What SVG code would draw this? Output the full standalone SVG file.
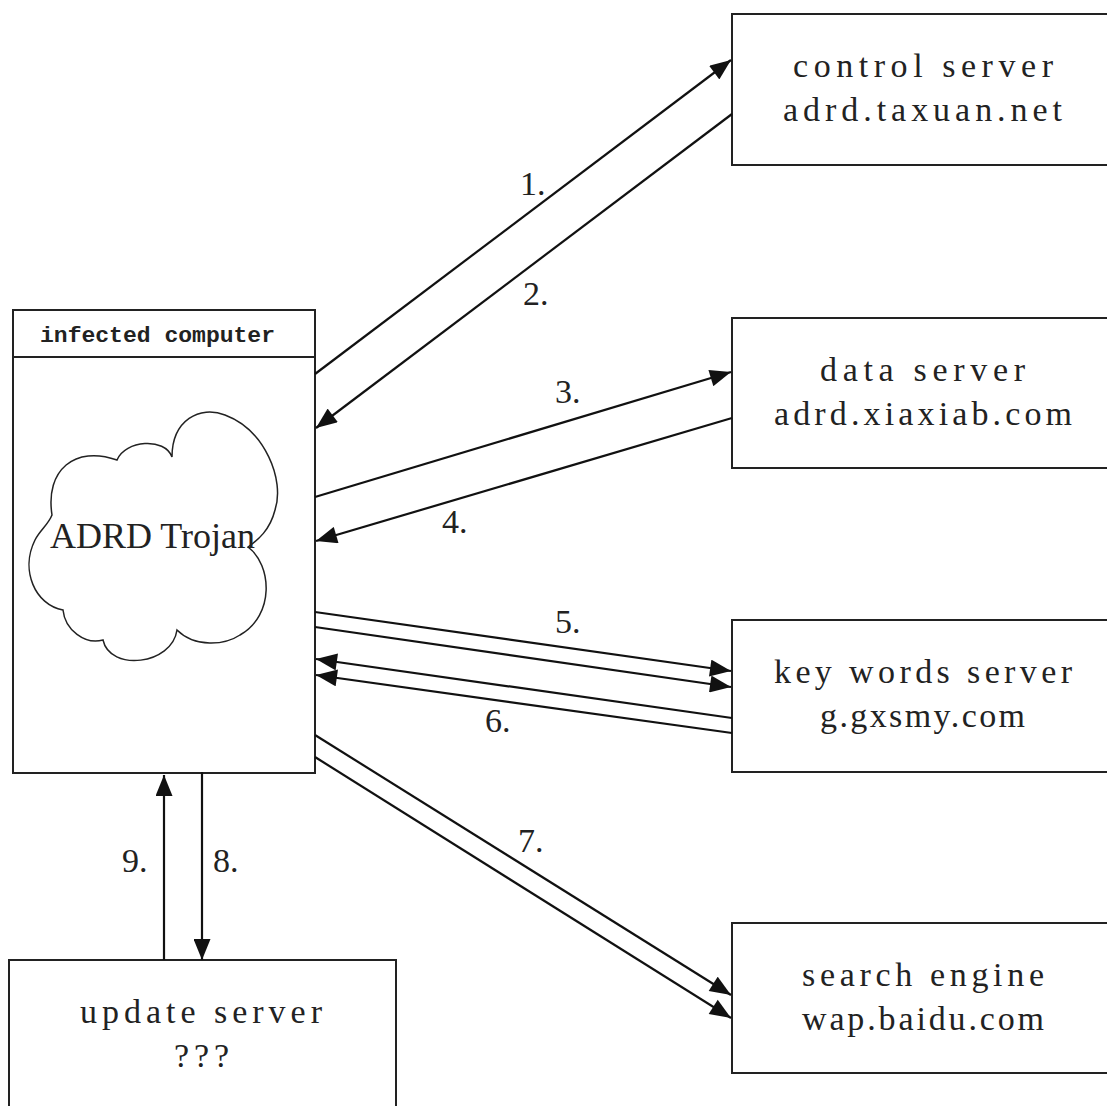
<svg xmlns="http://www.w3.org/2000/svg" width="1107" height="1106" viewBox="0 0 1107 1106">
<style>
.box{fill:#fff;stroke:#222;stroke-width:2}
.t{font-family:"Liberation Serif","Times New Roman",serif;font-size:34px;fill:#222}
.hdr{font-family:"Liberation Mono","Courier New",monospace;font-size:22px;font-weight:bold;fill:#222}
.c{stroke:#111;stroke-width:2.2;fill:none;marker-end:url(#ah)}
</style>
<defs>
<marker id="ah" markerUnits="userSpaceOnUse" markerWidth="22" markerHeight="17" viewBox="0 0 21 17" refX="21" refY="8.5" orient="auto">
<path d="M0,0 L21,8.5 L0,17 Z" fill="#111"/>
</marker>
</defs>
<rect width="1107" height="1106" fill="#fff"/>
<g id="infected">
<rect class="box" x="13" y="310" width="302" height="463"/>
<line x1="13" y1="357" x2="315" y2="357" stroke="#222" stroke-width="2"/>
<text class="hdr" x="40" y="342" textLength="235" lengthAdjust="spacingAndGlyphs">infected computer</text>
<path d="M52,515 C45,470 75,445 117,460 C125,440 165,437 172,457 C172,420 200,405 225,415 C265,430 285,480 275,510 C270,530 258,540 248,547 C272,565 275,615 240,635 C225,645 195,648 177,630 C172,665 110,672 103,640 C85,645 65,630 63,610 C35,605 20,570 35,540 C40,530 48,525 52,515 Z" fill="#fff" stroke="#222" stroke-width="1.5"/>
<text class="t" x="50" y="548" textLength="205" style="font-size:36px">ADRD Trojan</text>
</g>
<g id="control">
<rect class="box" x="732" y="14" width="400" height="151"/>
<text class="t" x="793" y="77" textLength="260">control server</text>
<text class="t" x="783" y="121" textLength="279">adrd.taxuan.net</text>
</g>
<g id="data">
<rect class="box" x="732" y="318" width="400" height="150"/>
<text class="t" x="820" y="381" textLength="205">data server</text>
<text class="t" x="774" y="425" textLength="298">adrd.xiaxiab.com</text>
</g>
<g id="keywords">
<rect class="box" x="732" y="620" width="400" height="152"/>
<text class="t" x="774" y="683" textLength="298">key words server</text>
<text class="t" x="820" y="727" textLength="205">g.gxsmy.com</text>
</g>
<g id="search">
<rect class="box" x="732" y="923" width="400" height="150"/>
<text class="t" x="802" y="986" textLength="242">search engine</text>
<text class="t" x="802" y="1030" textLength="242">wap.baidu.com</text>
</g>
<g id="update">
<rect class="box" x="9" y="960" width="387" height="170"/>
<text class="t" x="80" y="1023" textLength="242">update server</text>
<text class="t" x="174" y="1067" textLength="55">???</text>
</g>
<g id="connectors">
<line class="c" x1="315" y1="374" x2="731" y2="60"/>
<line class="c" x1="732" y1="114" x2="316" y2="428"/>
<line class="c" x1="315" y1="497" x2="731" y2="372"/>
<line class="c" x1="732" y1="418" x2="316" y2="541"/>
<line class="c" x1="315" y1="612" x2="731" y2="671"/>
<line class="c" x1="315" y1="627" x2="731" y2="687"/>
<line class="c" x1="732" y1="718" x2="316" y2="659"/>
<line class="c" x1="732" y1="733" x2="316" y2="675"/>
<line class="c" x1="315" y1="735" x2="731" y2="995"/>
<line class="c" x1="315" y1="757" x2="731" y2="1018"/>
<line class="c" x1="202" y1="772" x2="202" y2="960"/>
<line class="c" x1="164" y1="960" x2="164" y2="775"/>
<text class="t" x="520" y="195">1.</text>
<text class="t" x="523" y="305">2.</text>
<text class="t" x="555" y="403">3.</text>
<text class="t" x="442" y="533">4.</text>
<text class="t" x="555" y="633">5.</text>
<text class="t" x="485" y="732">6.</text>
<text class="t" x="518" y="852">7.</text>
<text class="t" x="213" y="872">8.</text>
<text class="t" x="122" y="872">9.</text>
</g>
</svg>
